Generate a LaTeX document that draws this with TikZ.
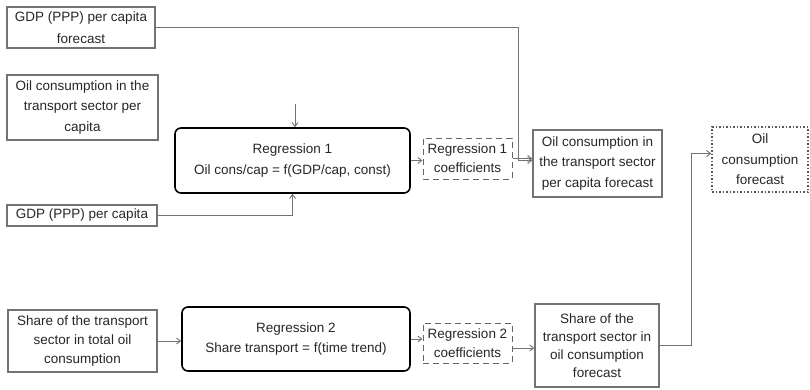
\documentclass[tikz,border=0pt]{standalone}
\usepackage{fontspec}
\setmainfont{Liberation Sans}
\usetikzlibrary{arrows.meta,calc}
\begin{document}
\begin{tikzpicture}[x=1pt,y=-1pt,
  every node/.style={font=\fontsize{13.5}{20.5}\selectfont, align=center, inner sep=1pt, text=black!85},
  plainbox/.style={draw=black!55, line width=1.3pt},
  regbox/.style={draw=black, line width=1.6pt, rounded corners=6pt},
  coefbox/.style={draw=black!60, line width=1pt, dash pattern=on 6pt off 4pt},
  outbox/.style={draw=black!65, line width=1.5pt, dotted},
  conn/.style={draw=black!55, line width=0.9pt},
  arr/.style={conn, -{Straight Barb[length=4pt,width=6pt]}}]
\useasboundingbox (0,0) rectangle (810,389);
\node[plainbox, minimum width=148pt, minimum height=41pt, font=\fontsize{13.5}{22}\selectfont] (A) at (81,27.5) {GDP (PPP) per capita\\forecast};
\node[plainbox, minimum width=151pt, minimum height=65pt] (B) at (82.5,107.5) {Oil consumption in the\\transport sector per\\capita};
\node[plainbox, minimum width=150pt, minimum height=21pt] (C) at (82,215.5) {GDP (PPP) per capita};
\node[regbox, minimum width=235pt, minimum height=65pt] (R1) at (292.5,160.5) {Regression 1\\Oil cons/cap = f(GDP/cap, const)};
\node[coefbox, minimum width=89pt, minimum height=41pt, font=\fontsize{13.5}{19}\selectfont] (K1) at (467.5,158.5) {Regression 1\\coefficients};
\node[plainbox, minimum width=129pt, minimum height=67pt] (F1) at (597.5,163.5) {Oil consumption in\\the transport sector\\per capita forecast};
\node[outbox, minimum width=96pt, minimum height=65pt] (OF) at (760,159.5) {Oil\\consumption\\forecast};
\node[plainbox, minimum width=149pt, minimum height=62pt, font=\fontsize{13.5}{19}\selectfont] (D) at (82.5,341) {Share of the transport\\sector in total oil\\consumption};
\node[regbox, minimum width=228pt, minimum height=64pt] (R2) at (296,339) {Regression 2\\Share transport = f(time trend)};
\node[coefbox, minimum width=89pt, minimum height=40pt, font=\fontsize{13.5}{19}\selectfont] (K2) at (467.5,343) {Regression 2\\coefficients};
\node[plainbox, minimum width=124pt, minimum height=83pt, font=\fontsize{13.5}{18}\selectfont] (F2) at (597,345.5) {Share of the\\transport sector in\\oil consumption\\forecast};
\coordinate (t1) at (295,104);
\draw[arr] (t1) -- (t1 |- R1.north);
\draw[arr] (C.east) -| (R1.south);
\draw[arr] (A.east) -| ($(F1.west)+(-14,-3)$) -- ($(F1.west)+(0,-3)$);
\draw[arr] (R1.east) -- (R1.east -| K1.west);
\draw[arr] (K1.east) -- (K1.east -| F1.west);
\draw[arr] (D.east) -- (D.east -| R2.west);
\draw[arr] (R2.east) -- (R2.east -| K2.west);
\draw[arr] ($(K2.east)+(0,5)$) -- ($(K2.east -| F2.west)+(0,5)$);
\draw[arr] (F2.east) -| ($(OF.west)+(-20,-6)$) -- ($(OF.west)+(0,-6)$);
\end{tikzpicture}
\end{document}
